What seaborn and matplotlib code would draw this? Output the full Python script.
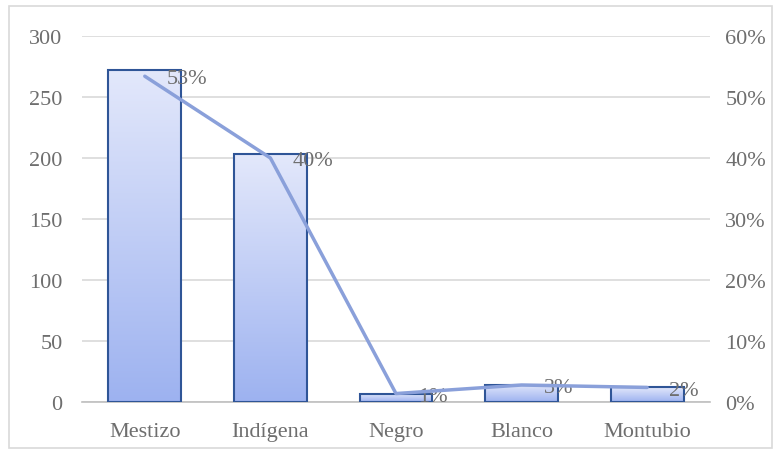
import matplotlib
matplotlib.use('Agg')
import matplotlib.pyplot as plt
import seaborn as sns
import numpy as np
from matplotlib.colors import LinearSegmentedColormap
from matplotlib.patches import Rectangle
from matplotlib.ticker import PercentFormatter

categories = ['Mestizo', 'Indígena', 'Negro', 'Blanco', 'Montubio']
counts = [272, 203, 7, 14, 12]
percents = [0.534, 0.40, 0.014, 0.028, 0.024]
percent_labels = ['53%', '40%', '1%', '3%', '2%']

sns.set_style('white')
plt.rcParams['font.family'] = ['Liberation Serif', 'DejaVu Serif']

text_color = '#6e6e6e'
grid_color = '#d9d9d9'
edge_color = '#2f5597'
line_color = '#8aa0da'
fsize = 16

fig = plt.figure(figsize=(7.81, 4.56), dpi=100)
ax = fig.add_axes([0.105, 0.116, 0.804, 0.803])

sns.barplot(x=categories, y=counts, ax=ax, width=0.58, color='white',
            edgecolor=edge_color, linewidth=1.5, zorder=3)

# vertical gradient inside every bar
cmap = LinearSegmentedColormap.from_list('grad', ['#9db2f0', '#e3e8fb'])
grad = np.linspace(0, 1, 256).reshape(-1, 1)
for p in list(ax.patches):
    x0, y0, w, h = p.get_x(), p.get_y(), p.get_width(), p.get_height()
    im = ax.imshow(grad, extent=[x0, x0 + w, y0, y0 + h], origin='lower',
                   aspect='auto', cmap=cmap, zorder=2)
    im.set_clip_path(p)
    p.set_facecolor('none')

ax.set_xlim(-0.5, len(categories) - 0.5)
ax.set_ylim(0, 300)
ax.set_yticks(range(0, 301, 50))
ax.yaxis.grid(True, color=grid_color, linewidth=1.2, zorder=0)
ax.set_axisbelow(True)
for s in ax.spines.values():
    s.set_visible(False)
ax.spines['bottom'].set_visible(True)
ax.spines['bottom'].set_color('#bfbfbf')
ax.spines['bottom'].set_linewidth(1.2)
ax.tick_params(axis='y', length=0, pad=14, labelsize=fsize, labelcolor=text_color)
ax.tick_params(axis='x', length=0, pad=14, labelsize=fsize, labelcolor=text_color)
ax.set_xlabel('')
ax.set_ylabel('')

ax2 = ax.twinx()
xs = np.arange(len(categories))
ax2.plot(xs, percents, color=line_color, linewidth=2.5, zorder=4)
ax2.set_ylim(0, 0.6)
ax2.set_yticks(np.arange(0, 0.61, 0.1))
ax2.yaxis.set_major_formatter(PercentFormatter(1.0, decimals=0))
ax2.tick_params(axis='y', length=0, pad=11, labelsize=fsize, labelcolor=text_color)
for s in ax2.spines.values():
    s.set_visible(False)

for x, y, lab in zip(xs, percents, percent_labels):
    ax2.annotate(lab, (x, y), xytext=(16, -2), textcoords='offset points',
                 ha='left', va='center', fontsize=fsize, color=text_color)

fig.add_artist(Rectangle((0.011, 0.016), 0.978, 0.968, transform=fig.transFigure,
                         fill=False, edgecolor=grid_color, linewidth=1.2))

fig.savefig('out.png', dpi=100)
